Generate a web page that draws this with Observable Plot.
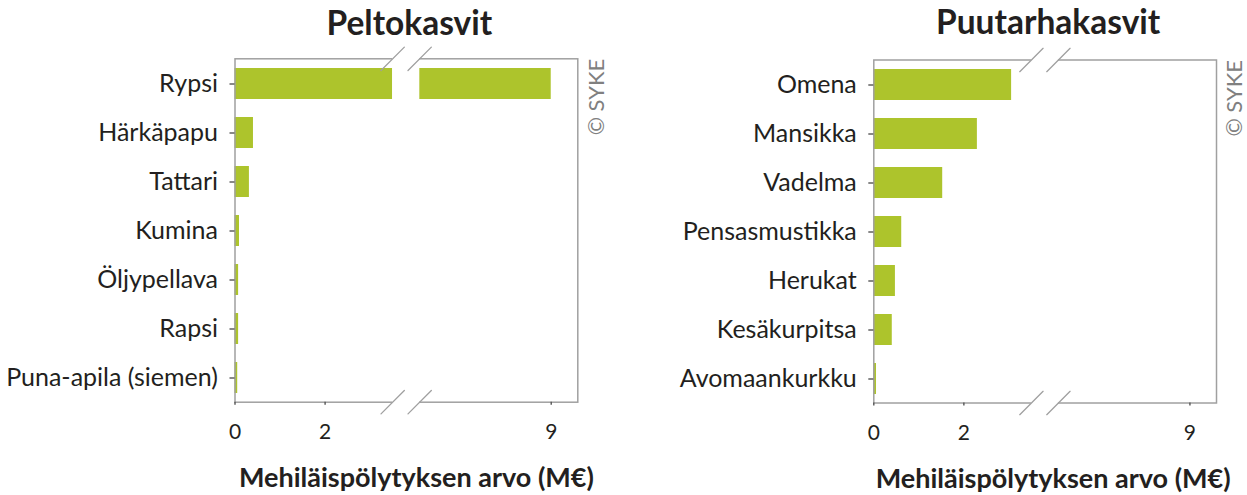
<!DOCTYPE html>
<html>
<head>
<meta charset="utf-8">
<script src="https://cdn.jsdelivr.net/npm/d3@7"></script>
<script src="https://cdn.jsdelivr.net/npm/@observablehq/plot@0.6"></script>
<style>
  body { margin: 0; background: #fff; }
  #wrap { position: relative; width: 1247px; height: 495px; overflow: hidden; }
  #wrap > div { position: absolute; top: 0; }
  svg { font-family: Lato, "Open Sans", sans-serif; }
</style>
</head>
<body>
<div id="wrap"><div id="left" style="left:0"></div><div id="right" style="left:639px"></div></div>
<script>
// ---- data ----
const fieldCrops = ["Rypsi", "Härkäpapu", "Tattari", "Kumina", "Öljypellava", "Rapsi", "Puna-apila (siemen)"];
const fieldValues = [9.0, 0.41, 0.32, 0.10, 0.08, 0.08, 0.06];
const gardenCrops = ["Omena", "Mansikka", "Vadelma", "Pensasmustikka", "Herukat", "Kesäkurpitsa", "Avomaankurkku"];
const gardenValues = [3.06, 2.30, 1.53, 0.62, 0.48, 0.41, 0.06];
const xTicks = [0, 2, 9];
const axisBreak = [3.5, 6.08];
const xMax = 9.59;
const titles = ["Peltokasvit", "Puutarhakasvit"];
const xLabel = "Mehiläispölytyksen arvo (M€)";
const credit = "© SYKE";

// ---- style ----
const barColor = "#adc42c";
const frameColor = "#a0a0a0";
const textColor = "#231f20";

function segments(cats, vals) {
  const out = [];
  cats.forEach((c, i) => {
    const v = vals[i];
    out.push({crop: c, x1: 0, x2: Math.min(v, axisBreak[0])});
    if (v > axisBreak[1]) out.push({crop: c, x1: axisBreak[1], x2: v});
  });
  return out;
}

const slash = {
  draw(context, l) { context.moveTo(0, 0); context.lineTo(0, -l); }
};

function panel({title, cats, vals, width, mLeft, mRight, mTop, mBottom, titleDy, labelDy, labelDx, creditDx}) {
  const H = 495;
  const gap = 27;
  const x0 = mLeft, x3 = width - mRight;
  const k = (x3 - x0 - gap) / (axisBreak[0] + (xMax - axisBreak[1]));
  const x1 = x0 + k * axisBreak[0];
  const x2 = x1 + gap;
  return Plot.plot({
    width, height: H,
    marginLeft: mLeft, marginRight: mRight, marginTop: mTop, marginBottom: mBottom,
    style: {fontFamily: "Lato, 'Open Sans', sans-serif", color: textColor, background: "white"},
    x: {type: "linear", domain: [0, axisBreak[0], axisBreak[1], xMax], range: [x0, x1, x2, x3]},
    y: {type: "band", domain: cats, paddingInner: 0.37, paddingOuter: 0.185},
    marks: [
      Plot.barX(segments(cats, vals), {y: "crop", x1: "x1", x2: "x2", fill: barColor}),
      Plot.frame({stroke: frameColor, strokeWidth: 1.5}),
      Plot.rect([axisBreak], {x1: d => d[0], x2: d => d[1], fill: "white", insetTop: -3, insetBottom: -3}),
      Plot.vector(axisBreak, {x: d => d, frameAnchor: "top", length: 33, rotate: 45, anchor: "middle", shape: slash, stroke: frameColor, strokeWidth: 1.3}),
      Plot.vector(axisBreak, {x: d => d, frameAnchor: "bottom", length: 33, rotate: 45, anchor: "middle", shape: slash, stroke: frameColor, strokeWidth: 1.3}),
      Plot.axisY({tickSize: 5, tickPadding: 12, fontSize: 25, label: null, stroke: "#555", strokeWidth: 1.4}),
      Plot.axisX({ticks: xTicks, tickFormat: d => String(d), tickSize: 3, tickPadding: 19, fontSize: 21, label: null, stroke: "#555", strokeWidth: 1.4}),
      Plot.text([title], {frameAnchor: "top", text: d => d, lineAnchor: "top", dy: titleDy, dx: 3, fontSize: 33.5, fontWeight: "bold", fill: textColor}),
      Plot.text([xLabel], {frameAnchor: "bottom", text: d => d, lineAnchor: "top", dy: labelDy, dx: labelDx, fontSize: 27, fontWeight: "bold", fill: textColor}),
      Plot.text([credit], {frameAnchor: "top-right", text: d => d, rotate: -90, textAnchor: "end", lineAnchor: "middle", dx: creditDx, fontSize: 22, fill: "#808080"})
    ]
  });
}

document.getElementById("left").append(panel({
  title: titles[0], cats: fieldCrops, vals: fieldValues,
  width: 639, mLeft: 234.5, mRight: 61.7, mTop: 58.3, mBottom: 93.3,
  titleDy: -48, labelDy: 66, labelDx: 10, creditDx: 19.4
}));
document.getElementById("right").append(panel({
  title: titles[1], cats: gardenCrops, vals: gardenValues,
  width: 608, mLeft: 234.3, mRight: 31, mTop: 59.5, mBottom: 92.5,
  titleDy: -49.5, labelDy: 66, labelDx: 8, creditDx: 18
}));
</script>
</body>
</html>
